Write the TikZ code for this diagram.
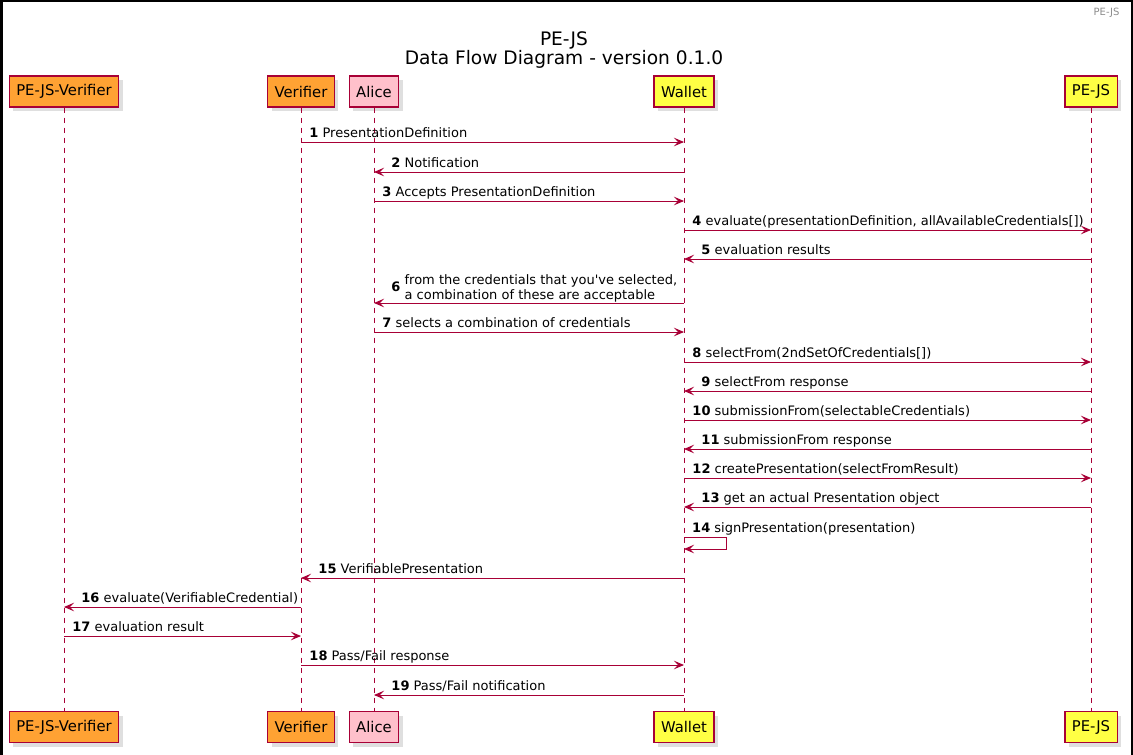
\documentclass[tikz,border=0pt]{standalone}
\usepackage{fontspec}
\setmainfont{DejaVu Sans}
\usetikzlibrary{arrows.meta,shadows}
\definecolor{umlred}{HTML}{A80036}
\definecolor{actorange}{HTML}{FFA233}
\definecolor{actpink}{HTML}{FFC0CB}
\definecolor{actyellow}{HTML}{FFFF44}

\begin{document}
\begin{tikzpicture}
  [x=1pt,y=-1pt,
   actor/.style={draw=umlred, line width=1.2pt, minimum height=31pt, inner xsep=7pt,
     font=\fontsize{14.8}{17}\selectfont,
     drop shadow={shadow xshift=4pt, shadow yshift=-4pt, opacity=.25, fill=gray}},
   life/.style={umlred, line width=.8pt, dash pattern=on 5pt off 5pt},
   msg/.style={umlred, line width=.9pt, -{Stealth[length=10pt,width=8.5pt,inset=4pt]}},
   lbl/.style={text=black, font=\fontsize{13}{15}\selectfont, inner sep=0pt}]

  \useasboundingbox (0,0) rectangle (1133,755);
  % frame
  \fill[black] (0,0) rectangle (3,755);
  \fill[black] (0,0) rectangle (1133,2);
  \fill[black] (1131,0) rectangle (1133,755);

  \node[text=gray!90, font=\fontsize{10}{12}\selectfont, anchor=base east] (hdr) at (1123,15) {PE-JS};
  \node[font=\fontsize{18.6}{20}\selectfont, anchor=base] (title) at (564,45) {PE-JS};
  \node[font=\fontsize{18.6}{20}\selectfont, anchor=base] (subtitle) at (564,64.5) {Data Flow Diagram - version 0.1.0};

  % participants, top and bottom
  \node[actor, fill=actorange] (pjv) at (64,91.5) {PE-JS-Verifier};
  \node[actor, fill=actorange] (ver) at (301,91.5) {Verifier};
  \node[actor, fill=actpink] (ali) at (374,91.5) {Alice};
  \node[actor, fill=actyellow] (wal) at (684,91.5) {Wallet};
  \node[actor, fill=actyellow] (pej) at (1091,91.5) {PE-JS};

  \node[actor, fill=actorange] (pjv2) at (64,727) {PE-JS-Verifier};
  \node[actor, fill=actorange] (ver2) at (301,727) {Verifier};
  \node[actor, fill=actpink] (ali2) at (374,727) {Alice};
  \node[actor, fill=actyellow] (wal2) at (684,727) {Wallet};
  \node[actor, fill=actyellow] (pej2) at (1091,727) {PE-JS};

  \foreach \p in {pjv,ver,ali,wal,pej}
    \draw[life] (\p.south) -- (\p2.north);

  % messages to the right
  \foreach \n/\a/\b/\y/\t in {1/ver/wal/142/PresentationDefinition,
      3/ali/wal/201/Accepts PresentationDefinition,
      4/wal/pej/230/{evaluate(presentationDefinition, allAvailableCredentials[])},
      7/ali/wal/332/selects a combination of credentials,
      8/wal/pej/362/selectFrom(2ndSetOfCredentials[]),
      10/wal/pej/420/submissionFrom(selectableCredentials),
      12/wal/pej/478/createPresentation(selectFromResult),
      17/pjv/ver/636/evaluation result,
      18/ver/wal/665/{Pass/Fail response}}
    \draw[msg] (\a |- 0,\y) -- node[lbl, pos=0, anchor=base west, xshift=8pt, yshift=5pt] {\textbf{\n} \t} (\b |- 0,\y);

  % messages to the left
  \foreach \n/\a/\b/\y/\t in {2/wal/ali/172/Notification,
      5/pej/wal/259/evaluation results,
      9/pej/wal/391/selectFrom response,
      11/pej/wal/449/submissionFrom response,
      13/pej/wal/507/get an actual Presentation object,
      15/wal/ver/578/VerifiablePresentation,
      16/ver/pjv/607/evaluate(VerifiableCredential),
      19/wal/ali/695/{Pass/Fail notification}}
    \draw[msg] (\a |- 0,\y) -- node[lbl, pos=1, anchor=base west, xshift=17pt, yshift=5pt] {\textbf{\n} \t} (\b |- 0,\y);

  \draw[msg] (wal |- 0,303) -- node[lbl, pos=1, anchor=south west, xshift=17pt, yshift=-1pt]
    {\textbf{6} \begin{tabular}{@{}l@{}}from the credentials that you\textquotesingle ve selected,\\a combination of these are acceptable\end{tabular}} (ali |- 0,303);

  % self message
  \draw[msg] (wal |- 0,537) -- ++(42,0) |- (wal |- 0,549);
  \node[lbl, anchor=base west] (m14) at ([xshift=8pt, yshift=5pt]wal |- 0,537) {\textbf{14} signPresentation(presentation)};

\end{tikzpicture}
\end{document}
